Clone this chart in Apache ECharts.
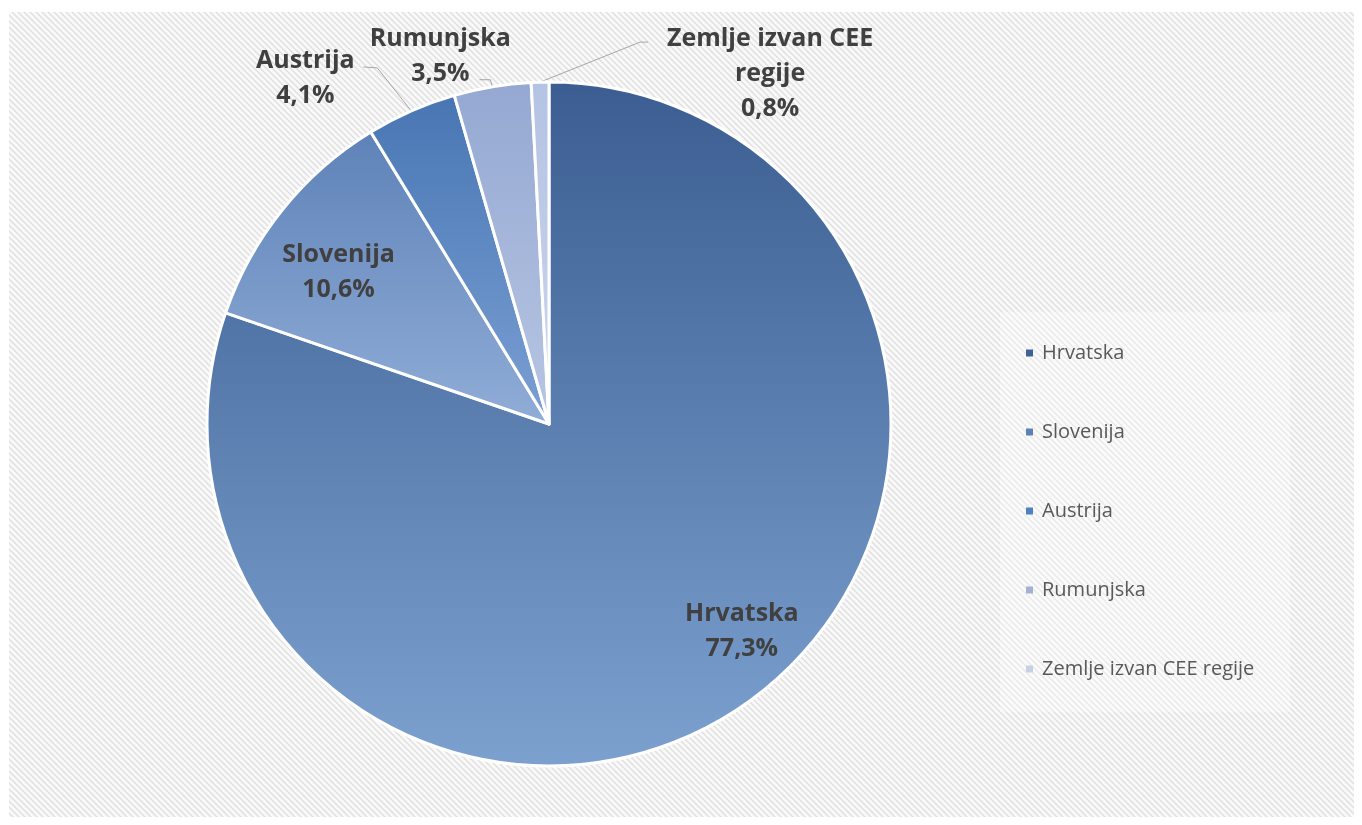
<!DOCTYPE html>
<html>
<head>
<meta charset="utf-8">
<script src="https://cdn.jsdelivr.net/npm/echarts@6/dist/echarts.min.js"></script>
<style>
  html, body { margin: 0; padding: 0; background: #ffffff; }
  #chart { width: 1362px; height: 825px; }
</style>
</head>
<body>
<div id="chart"></div>
<script>
// Country shares (%)
const countries = ['Hrvatska', 'Slovenija', 'Austrija', 'Rumunjska', 'Zemlje izvan CEE regije'];
const shares = [77.3, 10.6, 4.1, 3.5, 0.8];
// Names as written next to the slices
const sliceLabels = ['Hrvatska', 'Slovenija', 'Austrija', 'Rumunjska', 'Zemlje izvan CEE\nregije'];

// Slice fills: vertical gradient from top colour to bottom colour
const gradTop = ['#3b5d91', '#5e82b8', '#4876b3', '#94a8d2', '#b4c3e3'];
const gradBottom = ['#7ca1cf', '#90add7', '#7ba0d4', '#b8c6e3', '#cdd6ec'];
const legendColors = ['#3e6399', '#5d80b6', '#5081c0', '#a3b1d3', '#c8d0e3'];

const FONT = '"Open Sans", Lato, sans-serif';

// Diagonal hatch tile for the chart area background
function hatchTile() {
  const n = 6;
  const c = document.createElement('canvas');
  c.width = n; c.height = n;
  const g = c.getContext('2d');
  g.fillStyle = '#f9f9f9';
  g.fillRect(0, 0, n, n);
  g.strokeStyle = '#e0e0e0';
  g.lineWidth = 1.5;
  for (const k of [-n, 0, n]) {
    g.beginPath();
    g.moveTo(k - 1, -1);
    g.lineTo(k + n + 1, n + 1);
    g.stroke();
  }
  return c;
}

function fmtPct(v) {
  return v.toFixed(1).replace('.', ',') + '%';
}

// Placement of the outside labels, relative to the slice's edge point:
// [bend dx, bend dy, end dx, end dy, label centre dx, label centre dy]
const outsidePlacement = {
  2: [-34, -43, -48, -44, -106, -33],
  3: [-2, -7, -13, -7, -52, -30],
  4: [100, -40, 108, -40, 230, -8]
};
// Nudges for the labels sitting inside the two large slices
const insideNudge = { 0: [36, -12], 1: [0, 18] };

const chart = echarts.init(document.getElementById('chart'), null, { renderer: 'canvas' });

const sliceData = countries.map((name, i) => ({
  name: name,
  value: shares[i],
  itemStyle: {
    color: {
      type: 'linear', x: 0, y: 0, x2: 0, y2: 1,
      colorStops: [
        { offset: 0, color: gradTop[i] },
        { offset: 1, color: gradBottom[i] }
      ]
    }
  },
  label: { show: i >= 2 },
  labelLine: { show: i >= 2 }
}));

const labelText = {
  fontFamily: FONT,
  fontWeight: 'bold',
  fontSize: 25,
  lineHeight: 35,
  color: '#404040',
  formatter: p => sliceLabels[p.dataIndex] + '\n' + fmtPct(p.value)
};

const option = {
  animation: false,
  backgroundColor: '#ffffff',
  graphic: [
    {
      type: 'rect', z: -10, silent: true,
      shape: { x: 9, y: 12, width: 1345, height: 805 },
      style: { fill: { image: hatchTile(), repeat: 'repeat' } }
    },
    {
      type: 'rect', z: -5, silent: true,
      shape: { x: 1000, y: 312, width: 290, height: 400 },
      style: { fill: 'rgba(255,255,255,0.3)' }
    }
  ],
  legend: {
    orient: 'vertical',
    left: 1021,
    top: 337,
    itemWidth: 7,
    itemHeight: 7,
    itemGap: 57,
    icon: 'rect',
    textStyle: { fontFamily: FONT, fontSize: 20, color: '#595959', lineHeight: 22, padding: [0, 0, 0, 4] },
    data: countries.map((n, i) => ({ name: n, itemStyle: { color: legendColors[i], borderWidth: 0 } }))
  },
  series: [
    {
      type: 'pie',
      center: [549, 424],
      radius: 342,
      startAngle: 90,
      clockwise: true,
      silent: true,
      itemStyle: { borderColor: '#ffffff', borderWidth: 3 },
      label: Object.assign({ position: 'outside' }, labelText),
      labelLine: { lineStyle: { color: '#a6a6a6', width: 1 } },
      labelLayout: function (params) {
        const pl = outsidePlacement[params.dataIndex];
        const pts = params.labelLinePoints;
        if (!pl || !pts) return {};
        const e = pts[0];
        return {
          x: e[0] + pl[4],
          y: e[1] + pl[5],
          align: 'center',
          verticalAlign: 'middle',
          labelLinePoints: [
            [e[0], e[1]],
            [e[0] + pl[0], e[1] + pl[1]],
            [e[0] + pl[2], e[1] + pl[3]]
          ]
        };
      },
      data: sliceData
    },
    {
      // transparent ring carrying the labels drawn inside the two large slices
      type: 'pie',
      center: [549, 424],
      radius: [192, 342],
      startAngle: 90,
      clockwise: true,
      silent: true,
      legendHoverLink: false,
      itemStyle: { color: 'rgba(0,0,0,0)', borderWidth: 0 },
      label: Object.assign({ position: 'inside' }, labelText),
      labelLine: { show: false },
      labelLayout: function (params) {
        const n = insideNudge[params.dataIndex];
        return n ? { dx: n[0], dy: n[1] } : {};
      },
      data: countries.map((name, i) => ({ name: name, value: shares[i], label: { show: i < 2 } }))
    }
  ]
};

chart.setOption(option);
</script>
</body>
</html>
